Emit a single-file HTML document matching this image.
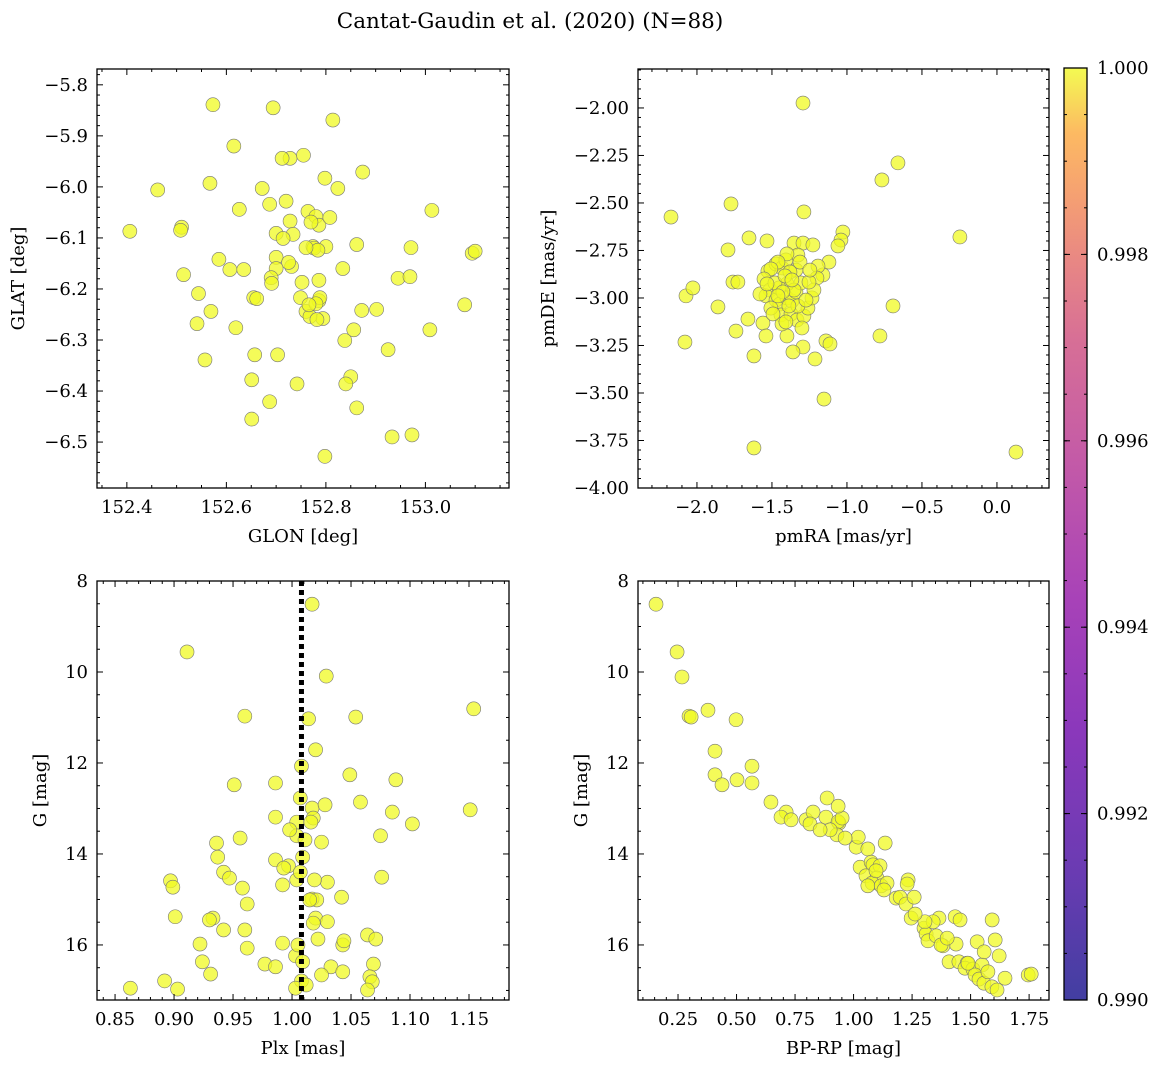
<!DOCTYPE html>
<html><head><meta charset="utf-8"><style>
body{margin:0;background:#fff;}
svg{display:block;font-family:"DejaVu Serif","Liberation Serif",serif;}
</style></head><body>
<svg id="fig" width="1161" height="1068" viewBox="0 0 1161 1068">
<defs>
<linearGradient id="plasma" x1="0" y1="1" x2="0" y2="0">
<stop offset="0" stop-color="#0d0887"/><stop offset="0.14" stop-color="#41049d"/>
<stop offset="0.29" stop-color="#6a00a8"/><stop offset="0.43" stop-color="#8f0da4"/>
<stop offset="0.57" stop-color="#b12a90"/><stop offset="0.71" stop-color="#cc4778"/>
<stop offset="0.79" stop-color="#e16462"/><stop offset="0.86" stop-color="#f2844b"/>
<stop offset="0.93" stop-color="#fca636"/><stop offset="1" stop-color="#f0f921"/>
</linearGradient>
</defs>
<text x="530" y="28" font-size="21.5" text-anchor="middle">Cantat-Gaudin et al. (2020) (N=88)</text>
</svg>
<script>
const tlX=[152.406,152.462,152.573,152.694,152.814,152.615,152.728,152.755,152.874,152.567,152.672,152.824,152.798,152.626,152.687,152.720,153.013,152.510,152.508,152.728,152.764,152.780,152.786,152.808,152.734,152.700,152.714,152.770,152.800,152.774,152.862,152.971,153.094,153.100,152.585,152.607,152.635,152.700,152.731,152.725,152.700,152.690,152.776,152.784,152.760,152.834,152.786,152.945,152.969,152.514,152.691,152.752,152.749,152.655,152.661,152.786,152.788,152.544,152.569,152.794,152.619,152.760,152.768,152.782,152.872,152.902,152.856,153.009,153.079,152.541,152.838,152.657,152.703,152.557,152.925,152.651,152.742,152.850,152.840,152.862,152.651,152.687,152.933,152.973,152.798,152.712,152.780,152.766];
const tlY=[-6.087,-6.006,-5.839,-5.845,-5.869,-5.920,-5.944,-5.938,-5.971,-5.993,-6.003,-6.003,-5.983,-6.044,-6.034,-6.028,-6.046,-6.079,-6.085,-6.067,-6.048,-6.058,-6.075,-6.060,-6.093,-6.091,-6.101,-6.069,-6.117,-6.117,-6.113,-6.119,-6.130,-6.126,-6.142,-6.162,-6.162,-6.138,-6.156,-6.148,-6.160,-6.178,-6.120,-6.124,-6.119,-6.160,-6.183,-6.179,-6.176,-6.172,-6.189,-6.187,-6.217,-6.217,-6.219,-6.223,-6.217,-6.209,-6.244,-6.258,-6.276,-6.244,-6.254,-6.260,-6.242,-6.240,-6.280,-6.280,-6.231,-6.268,-6.301,-6.329,-6.329,-6.339,-6.319,-6.378,-6.386,-6.372,-6.386,-6.433,-6.455,-6.421,-6.490,-6.486,-6.528,-5.944,-6.229,-6.231];
const trX=[-2.173,-1.293,-0.660,-0.767,-0.247,0.127,-1.620,-1.153,-1.773,-2.073,-2.027,-2.080,-1.860,-1.793,-1.760,-1.727,-1.740,-1.653,-1.533,-1.660,-1.560,-1.540,-1.620,-1.287,-0.780,-0.693,-1.027,-1.040,-1.060,-1.120,-1.160,-1.193,-1.200,-1.140,-1.113,-1.213,-1.293,-1.360,-1.400,-1.527,-1.473,-1.433,-1.407,-1.353,-1.293,-1.227,-1.327,-1.400,-1.460,-1.507,-1.553,-1.513,-1.540,-1.473,-1.447,-1.400,-1.367,-1.340,-1.307,-1.400,-1.453,-1.440,-1.433,-1.373,-1.333,-1.287,-1.260,-1.233,-1.220,-1.253,-1.340,-1.380,-1.480,-1.507,-1.413,-1.327,-1.353,-1.273,-1.367,-1.427,-1.387,-1.493,-1.580,-1.313,-1.247,-1.533,-1.460,-1.300,-1.407];
const trY=[-2.574,-1.974,-2.289,-2.379,-2.679,-3.811,-3.789,-3.532,-2.505,-2.989,-2.947,-3.232,-3.047,-2.747,-2.916,-2.916,-3.174,-2.684,-2.700,-3.111,-3.132,-3.200,-3.305,-2.547,-3.200,-3.042,-2.653,-2.695,-2.726,-2.811,-2.879,-2.832,-2.895,-3.226,-3.242,-3.321,-3.258,-3.284,-3.200,-2.858,-2.821,-2.842,-2.800,-2.711,-2.711,-2.721,-2.774,-2.768,-2.811,-2.847,-2.900,-2.958,-2.989,-3.011,-3.032,-3.000,-3.016,-2.968,-2.921,-2.926,-2.947,-3.089,-3.137,-3.084,-3.116,-3.095,-3.053,-3.000,-2.958,-2.916,-2.853,-2.863,-2.921,-3.053,-2.884,-3.042,-2.958,-3.011,-2.905,-2.968,-3.042,-3.084,-2.979,-2.811,-2.853,-2.926,-2.989,-3.158,-3.126];
const blX=[1.017,0.911,1.029,1.154,0.960,1.054,1.014,1.020,1.008,1.049,1.088,0.986,0.951,1.007,1.058,1.017,1.018,0.986,1.151,1.085,1.102,1.016,1.004,1.004,1.075,0.956,1.025,0.936,0.937,1.009,0.986,0.997,0.993,0.942,0.947,0.897,0.899,1.030,0.992,1.004,1.076,0.958,1.042,1.017,1.021,0.962,0.901,0.933,0.930,1.020,1.018,1.030,0.960,0.942,1.064,1.071,1.022,0.922,0.992,1.043,1.044,0.962,1.003,0.924,0.977,0.986,1.009,1.069,1.033,0.931,1.025,1.043,1.066,1.008,1.068,0.892,0.863,0.903,1.064,1.003,1.007,1.011,0.998,1.028,1.015,1.019,1.005,1.012];
const blY=[8.51,9.56,10.09,10.81,10.97,10.99,11.03,11.71,12.07,12.26,12.37,12.44,12.48,12.77,12.86,12.99,13.21,13.19,13.03,13.08,13.34,13.30,13.30,13.60,13.60,13.65,13.74,13.76,14.07,14.07,14.13,14.26,14.31,14.40,14.53,14.59,14.73,14.62,14.68,14.57,14.51,14.75,14.95,14.99,15.01,15.10,15.38,15.41,15.45,15.41,15.52,15.49,15.67,15.67,15.78,15.87,15.87,15.98,15.96,16.00,15.91,16.07,16.24,16.37,16.42,16.48,16.37,16.42,16.48,16.64,16.66,16.59,16.70,16.79,16.81,16.79,16.95,16.97,16.99,16.95,14.40,13.69,13.47,12.92,15.01,14.57,16.00,16.88];
const brX=[0.156,0.246,0.267,0.297,0.306,0.378,0.498,0.408,0.408,0.438,0.502,0.566,0.566,0.647,0.887,0.712,0.690,0.733,0.797,0.827,0.882,0.938,0.814,0.934,0.929,0.900,0.951,1.011,1.020,0.964,1.061,1.135,1.028,1.075,1.083,1.053,1.113,1.100,1.079,1.061,1.118,1.143,1.130,1.182,1.199,1.224,1.233,1.229,1.259,1.246,1.301,1.310,1.318,1.353,1.365,1.340,1.305,1.434,1.455,1.438,1.382,1.374,1.528,1.592,1.605,1.622,1.408,1.450,1.485,1.476,1.510,1.549,1.519,1.536,1.557,1.574,1.591,1.613,1.647,1.746,1.759,1.489,1.400,0.934,0.857,1.096,1.263,1.558];
const brY=[8.51,9.56,10.11,10.97,10.99,10.84,11.05,11.74,12.26,12.48,12.37,12.07,12.44,12.86,12.77,13.08,13.19,13.25,13.25,13.08,13.19,13.32,13.34,13.29,13.58,13.47,13.21,13.85,13.63,13.65,13.89,13.76,14.29,14.18,14.24,14.48,14.26,14.53,14.64,14.70,14.70,14.64,14.79,14.97,14.95,15.10,14.57,14.66,14.95,15.41,15.63,15.76,15.91,15.80,15.41,15.49,15.49,15.38,15.45,15.98,16.02,16.00,15.93,15.45,15.89,16.24,16.37,16.37,16.40,16.51,16.53,16.44,16.66,16.75,16.84,16.59,16.92,16.99,16.73,16.66,16.64,16.40,15.85,12.95,13.47,14.37,15.32,16.15];
const plxRef=[1.008];
const cbTicks=[0.990,0.992,0.994,0.996,0.998,1.000];

const NS="http://www.w3.org/2000/svg";
const svg=document.getElementById('fig');
const FS=18;
function mk(tag,attrs,parent){const e=document.createElementNS(NS,tag);for(const k in attrs)e.setAttribute(k,attrs[k]);(parent||svg).appendChild(e);return e;}
function fmt(v,d){let s=v.toFixed(d);return s.replace('-','\u2212');}

function panel(name,box,xd,yd,xMaj,xMin,xDec,yMaj,yMin,yDec,xlab,ylab,xs,ys,yInv,ylabOff){
  const g=mk('g',{});
  
  
  const [L,T,R,B]=box;
  const sx=v=>L+(v-xd[0])/(xd[1]-xd[0])*(R-L);
  const sy=yInv?(v=>T+(v-yd[0])/(yd[1]-yd[0])*(B-T)):(v=>B-(v-yd[0])/(yd[1]-yd[0])*(B-T));
  const marks=mk('g',{},g);
  
  
  for(let i=0;i<xs.length;i++){
    const c=mk('circle',{cx:sx(xs[i]),cy:sy(ys[i]),r:7,fill:'#f0f921','fill-opacity':0.75,stroke:'#777','stroke-width':0.6},marks);
    
    
  }
  const fr=mk('rect',{x:L,y:T,width:R-L,height:B-T,fill:'none',stroke:'#000','stroke-width':1.3},g);
  
  
  const eps=1e-9;
  const lo=Math.min(xd[0],xd[1]),hi=Math.max(xd[0],xd[1]);
  for(let v=Math.ceil(lo/xMin-eps)*xMin;v<=hi+eps;v+=xMin){
    const x=sx(v);const isMaj=Math.abs(v/xMaj-Math.round(v/xMaj))<1e-6;const len=isMaj?6:3;
    mk('line',{x1:x,x2:x,y1:B,y2:B-len,stroke:'#000'},g);mk('line',{x1:x,x2:x,y1:T,y2:T+len,stroke:'#000'},g);
    if(isMaj){const t=mk('text',{x:x,y:B+25,'font-size':FS,'text-anchor':'middle'},g);t.textContent=fmt(v,xDec);
      }
  }
  const ylo=Math.min(yd[0],yd[1]),yhi=Math.max(yd[0],yd[1]);
  for(let v=Math.ceil(ylo/yMin-eps)*yMin;v<=yhi+eps;v+=yMin){
    const y=sy(v);const isMaj=Math.abs(v/yMaj-Math.round(v/yMaj))<1e-6;const len=isMaj?6:3;
    mk('line',{x1:L,x2:L+len,y1:y,y2:y,stroke:'#000'},g);mk('line',{x1:R,x2:R-len,y1:y,y2:y,stroke:'#000'},g);
    if(isMaj){const t=mk('text',{x:L-9,y:y+6,'font-size':FS,'text-anchor':'end'},g);t.textContent=fmt(v,yDec);
      }
  }
  const xl=mk('text',{x:(L+R)/2,y:B+54,'font-size':FS,'text-anchor':'middle'},g);xl.textContent=xlab;
  
  const cx=L-ylabOff;
  const yl=mk('text',{x:0,y:0,'font-size':FS,'text-anchor':'middle',transform:`translate(${cx},${(T+B)/2}) rotate(-90)`},g);yl.textContent=ylab;
  
  return {sx,sy,g};
}
panel('panel-glon-glat',[97,69,509,488],[152.34,153.168],[-6.590,-5.769],0.2,0.05,1,0.1,0.02,1,'GLON [deg]','GLAT [deg]',tlX,tlY,false,73);
panel('panel-pm',[638,69,1049,488],[-2.393,0.347],[-4.0,-1.795],0.5,0.1,1,0.25,0.05,2,'pmRA [mas/yr]','pmDE [mas/yr]',trX,trY,false,84);
const bl=panel('panel-plx-g',[97,581,509,1000],[0.8347,1.1839],[8,17.21],0.05,0.01,2,2,0.5,0,'Plx [mas]','G [mag]',blX,blY,true,51);
panel('panel-cmd',[638,581,1049,1000],[0.079,1.835],[8,17.21],0.25,0.05,2,2,0.5,0,'BP-RP [mag]','G [mag]',brX,brY,true,51);
const ref=mk('line',{x1:bl.sx(plxRef[0]),x2:bl.sx(plxRef[0]),y1:581,y2:1000,stroke:'#000','stroke-width':5,'stroke-dasharray':'5,4'},bl.g);



// colorbar
const cb=mk('g',{});


const cT=68,cB=1000,cL=1064,cR=1087;
mk('rect',{x:cL,y:cT,width:cR-cL,height:cB-cT,fill:'url(#plasma)','fill-opacity':0.78},cb);
mk('rect',{x:cL,y:cT,width:cR-cL,height:cB-cT,fill:'none',stroke:'#000','stroke-width':1.3},cb);
const cy=v=>cB-(v-0.990)/0.010*(cB-cT);
cbTicks.forEach(v=>{
  const y=cy(v);
  mk('line',{x1:cL,x2:cL+6,y1:y,y2:y,stroke:'#000'},cb);mk('line',{x1:cR,x2:cR-6,y1:y,y2:y,stroke:'#000'},cb);
  const t=mk('text',{x:cR+10,y:y+6,'font-size':FS},cb);t.textContent=v.toFixed(3);
  
  
});
for(let v=0.9905;v<1.0;v+=0.0005){const y=cy(v);mk('line',{x1:cL,x2:cL+3,y1:y,y2:y,stroke:'#000'},cb);mk('line',{x1:cR,x2:cR-3,y1:y,y2:y,stroke:'#000'},cb);}
</script>
</body></html>
